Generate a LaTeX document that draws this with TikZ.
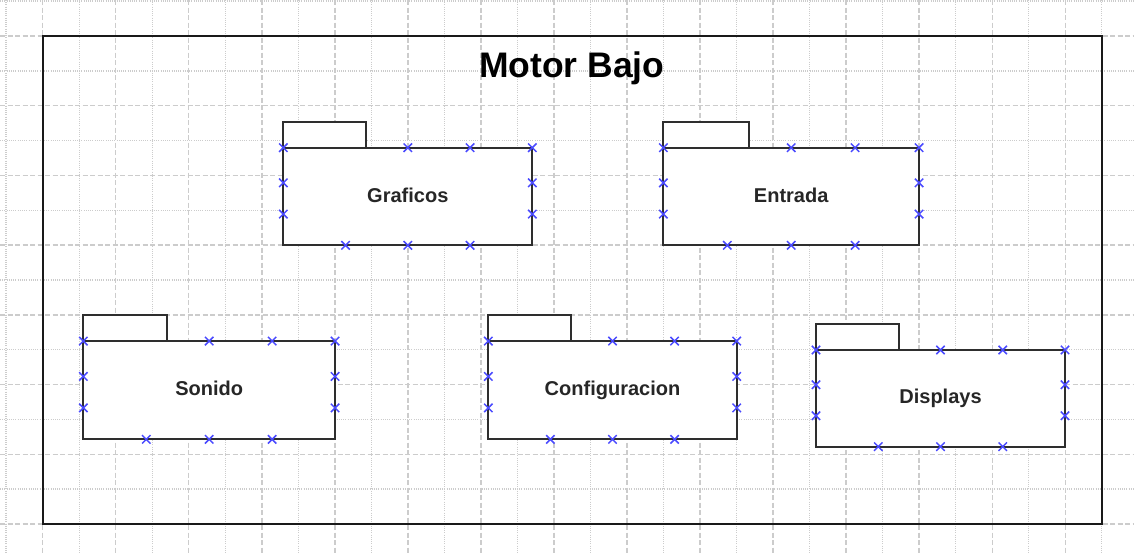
\documentclass[tikz,border=0pt]{standalone}
\usepackage{fontspec}
\setmainfont{Liberation Sans}
\usetikzlibrary{calc}
\definecolor{gridgray}{HTML}{CCCCCC}
\definecolor{edgegray}{HTML}{2E2E2E}
\definecolor{markblue}{HTML}{4A4AFF}
\newcommand\umlpkg[6]{%
  \node[pkgbody, minimum width=#4, minimum height=#5] (#1) at (#2,#3) {};
  \node[pkgtab, minimum width=#4/3, minimum height=26, anchor=south west] (#1-tab) at (#1.north west) {};
  \node[pkglabel, anchor=base] (#1-label) at ($(#1.center)+(0,5.5)$) {#6};
  \foreach \t in {0,0.5,0.75,1} \pic at ($(#1.north west)!\t!(#1.north east)$) {xmark};
  \foreach \t in {0.25,0.5,0.75} \pic at ($(#1.south west)!\t!(#1.south east)$) {xmark};
  \foreach \t in {0.36,0.68} {
    \pic at ($(#1.north west)!\t!(#1.south west)$) {xmark};
    \pic at ($(#1.north east)!\t!(#1.south east)$) {xmark};
  }
}
\begin{document}
\begin{tikzpicture}[x=1pt,y=-1pt,
  gridmajor/.style={gridgray, line width=1.4pt, dash pattern=on 5pt off 2.5pt},
  gridminor/.style={gridgray, line width=1.4pt, dash pattern=on 1pt off 1.2pt},
  outerframe/.style={draw=black!90, line width=2pt, inner sep=0pt, outer sep=0pt},
  titletext/.style={font=\bfseries\fontsize{35.5}{40}\selectfont, text=black, inner sep=0pt},
  pkgbody/.style={draw=edgegray, line width=2pt, fill=white, inner sep=0pt, outer sep=0pt},
  pkgtab/.style={draw=edgegray, line width=2pt, fill=white, inner sep=0pt, outer sep=0pt},
  pkglabel/.style={font=\bfseries\fontsize{20}{24}\selectfont, text=black!85, inner sep=0pt},
  xm/.style={markblue, line width=1.5pt},
  pics/xmark/.style={code={\draw[xm] (-4.2,-4.2)--(4.2,4.2) (-4.2,4.2)--(4.2,-4.2);}}]
\fill[white] (0,0) rectangle (1134,554);
\useasboundingbox (0,0) rectangle (1134,554);
% grid
\foreach \i in {0,2,...,28} \draw[gridmajor] ({42.7+36.52*\i},0) -- ({42.7+36.52*\i},554);
\foreach \i in {-1,1,...,29} \draw[gridminor] ({42.7+36.52*\i},0) -- ({42.7+36.52*\i},554);
\foreach \j in {0,2,...,14} \draw[gridmajor] (0,{36+34.86*\j}) -- (1134,{36+34.86*\j});
\foreach \j in {-1,1,...,13} \draw[gridminor] (0,{36+34.86*\j}) -- (1134,{36+34.86*\j});
% frame
\node[outerframe, minimum width=1059.1, minimum height=488, anchor=north west] (motorbajo) at (42.7,36) {};
\node[titletext, anchor=base] (titulo) at (571.7,77.3) {Motor Bajo};
% packages
\umlpkg{graficos}{407.8}{196.5}{249}{97.6}{Graficos}
\umlpkg{entrada}{791.2}{196.5}{255.7}{97.6}{Entrada}
\umlpkg{sonido}{209.2}{390.2}{251.7}{98.3}{Sonido}
\umlpkg{configuracion}{612.5}{390.2}{248.4}{98.3}{Configuracion}
\umlpkg{displays}{940.5}{398.3}{249}{96.7}{Displays}
\end{tikzpicture}
\end{document}
